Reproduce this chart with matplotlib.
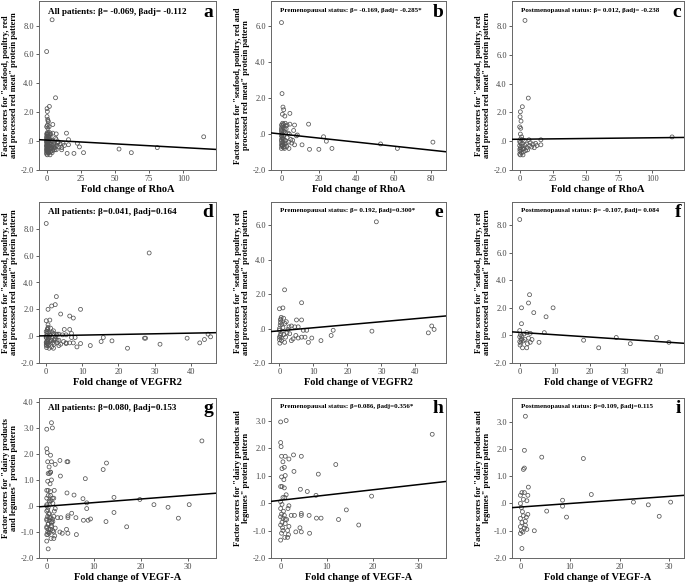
import numpy as np
import matplotlib
matplotlib.use("Agg")
import matplotlib.pyplot as plt
from matplotlib.ticker import FuncFormatter

plt.rcParams['font.family'] = ['Liberation Serif', 'DejaVu Serif']

# ---- RhoA, premenopausal (panel b) ----
rhoa_pre_x = [0, 0.3, 0.8, 1.2, 0.5, 1.8, 4.5, 2, 1, 0, 0.5, 3, 4.5, 7, 14.5, 6.5, 2.5, 0, 0.3, 0,
              0.5, 1, 0, 0.2, 0.5, 1.5, 0, 1, 2.5, 3, 4, 5, 5.5, 6, 7, 8, 8.5, 11, 15, 20,
              22.5, 24, 27, 53, 62, 81, 0, 0.1, 0.4, 0.8, 1.2, 1.5, 2, 2.2, 0.6, 1.3, 0.2, 0.7,
              1.8, 3.5, 2.8, 0.9, 0, 0.3, 0.1, 1.6, 2.4, 0, 0.5, 1.0, 3.8, 4.2]
rhoa_pre_y = [6.2, 2.25, 1.5, 1.35, 1.1, 1.0, 1.15, 0.6, 0.55, 0.5, 0.45, 0.5, 0.55, 0.5, 0.55, 0.2, 0.3, 0.1, 0.0, -0.1,
              -0.2, -0.3, -0.4, -0.5, -0.6, -0.7, -0.8, -0.75, -0.5, -0.2, -0.8, -0.3, -0.5, -0.35, -0.6, -0.1, -0.05, -0.6, -0.85, -0.85,
              -0.15, -0.4, -0.8, -0.55, -0.8, -0.45, -0.3, 0.2, -0.65, -0.45, -0.1, 0.3, -0.35, 0.05, 0.6, 0.15, -0.7, -0.25,
              -0.55, 0.05, -0.7, 0.35, -0.6, -0.15, 0.35, -0.8, 0.45, 0.25, 0.0, -0.55, -0.45, 0.0]

# ---- RhoA, postmenopausal (panel c) ----
rhoa_post_x = [4, 6.5, 2, 0.5, 0.3, 1, 0, 0.8, 0.5, 1.5, 2, 0, 0.3, 0, 0.5, 1, 0, 0.5, 2.5, 3,
               4, 5, 6, 7, 8, 9, 10, 11, 12, 13, 16, 16, 115, 1.2, 2.8, 0.2, 1.8, 3.5, 4.5, 0.7,
               2.2, 5.5, 7.5, 1.3, 0.1]
rhoa_post_y = [8.4, 3.0, 2.4, 2.05, 1.7, 1.4, 1.0, 0.9, 0.5, 0.3, 0.1, 0.0, -0.1, -0.3, -0.45, -0.6, -0.9, -0.95, -0.95, -0.5,
               -0.3, -0.2, -0.6, 0.1, -0.1, -0.4, -0.2, -0.45, -0.15, -0.3, 0.1, -0.25, 0.3, -0.2, -0.75, -0.7, -0.35, 0.05, -0.65, 0.15,
               -0.55, -0.45, -0.3, -0.8, -0.55]

# ---- VEGFR2, premenopausal (panel e) ----
vegfr2_pre_x = [28.5, 1.5, 6.5, 0, 1, 5, 6.5, 0.5, 1.2, 2, 0.3, 3.5, 4.5, 5.5, 7, 8, 2.5, 3, 4, 4.8,
                5.5, 6.5, 7.5, 8.5, 9.5, 12.2, 15.2, 15.8, 27.2, 43.8, 44.8, 45.5, 3.5, 1.5, 2.2, 0, 0.2, 0.4, 0, 0.6,
                0.1, 0.8, 1, 0.3, 0.5, 1.8, 0, 0.2, 0.7, 1.3, 2.8, 0, 0.4, 1.6]
vegfr2_pre_y = [6.2, 2.25, 1.5, 1.15, 1.2, 0.5, 0.5, 0.65, 0.6, 0.4, 0.5, 0.15, 0.1, 0.1, -0.1, -0.1, -0.05, -0.3, -0.6, -0.4,
                -0.55, -0.5, -0.5, -0.8, -0.55, -0.7, -0.4, -0.1, -0.15, -0.25, 0.15, -0.05, -0.7, -0.8, -0.25, -0.1, 0.2, -0.3, -0.5, -0.7,
                -0.85, -0.15, 0.05, 0.35, -0.55, -0.5, 0.0, -0.4, 0.25, -0.35, 0.1, -0.65, 0.55, 0.3]

# ---- VEGFR2, postmenopausal (panel f) ----
vegfr2_post_x = [0, 2.8, 2.5, 0.5, 9.5, 4, 7.5, 0.5, 0, 2, 3, 7, 0.2, 0, 0.5, 1, 0.3, 0.8, 2, 2.5,
                 3, 3.5, 5.5, 18.2, 22.5, 27.5, 31.5, 39, 42.5, 1.5, 0.1, 0.6, 2.2, 1.2, 0.4, 0]
vegfr2_post_y = [8.4, 2.95, 2.35, 2.0, 2.0, 1.65, 1.35, 0.85, 0.35, 0.2, 0.15, 0.2, 0.05, -0.1, -0.25, -0.4, -0.55, -0.9, -0.9, -0.2,
                 -0.5, -0.3, -0.5, -0.35, -0.9, -0.15, -0.6, -0.15, -0.5, -0.3, -0.7, -0.05, -0.6, 0.1, -0.35, -0.45]

# ---- VEGF-A, premenopausal (panel h) ----
vegfa_pre_x = [0, 1.2, 0, 0.1, 0.2, 1, 2.8, 4.5, 1.8, 0.5, 0.8, 0.3, 12, 2.9, 8.2, 0.2, 1, 0.7, 0.3, 0.8,
               0, 4.3, 5.8, 7.7, 1.2, 0.5, 0.9, 19.8, 33, 0, 0.3, 1.8, 1.6, 14.3, 4.5, 0.2, 0.8, 0, 0.5, 1.3,
               2.3, 3, 4.5, 6.2, 7.8, 8.8, 12.6, 17, 0.3, 1, 1.8, 0, 0.5, 1.5, 3.3, 4.2, 4.5, 6.3, 0.2, 0.9,
               1.5, 0, 1.7, 0.6, 0, 1.0, 0.4]
vegfa_pre_y = [2.95, 3.0, 2.2, 2.05, 1.7, 1.7, 1.75, 1.7, 1.6, 1.5, 1.3, 1.25, 1.4, 1.15, 1.05, 0.95, 1.0, 0.85, 0.6, 0.55,
               0.6, 0.5, 0.42, 0.28, 0.3, 0.2, 0.2, 0.25, 2.5, 0.05, -0.05, -0.1, -0.2, -0.25, -0.38, -0.4, -0.45, -0.5, -0.55, -0.6,
               -0.45, -0.45, -0.45, -0.45, -0.55, -0.55, -0.6, -0.8, -0.7, -0.75, -0.85, -0.8, -1.0, -1.0, -1.05, -0.9, -1.05, -1.1, -1.1, -1.25,
               -1.25, -1.35, -1.15, -0.3, -0.2, -0.6, -0.9]

# ---- VEGF-A, postmenopausal (panel i) ----
vegfa_post_x = [1, 0.8, 4.3, 12.7, 0.6, 0.8, 1.6, 14.3, 0.3, 0.8, 0, 1.5, 0.6, 1.3, 8.5, 0, 0.2, 8.5, 22.8, 25.8,
                30.3, 5.3, 1.5, 0, 0.6, 9.3, 28, 1, 0.3, 0, 0.8, 1.3, 2.8, 0.2, 0.5, 0, 0.3, 1, 0.4, 1.2]
vegfa_post_y = [3.2, 1.95, 1.7, 1.65, 1.25, 1.3, 0.6, 0.33, 0.4, 0.4, 0.3, 0.3, 0.15, 0.1, 0.12, 0.0, -0.15, -0.1, 0.05, -0.05,
                0.05, -0.28, -0.4, -0.55, -0.45, -0.5, -0.47, -0.65, -0.7, -0.85, -0.9, -0.95, -1.0, -1.0, -1.05, -1.1, -1.65, -0.8, -0.3, -0.5]

# fitted lines (intercept at x=0, slope), panels a..i
fit_intercept = [0.07, 0.0, 0.14, 0.03, -0.13, 0.22, -0.01, 0.1, -0.13]
fit_slope = [-0.0052, -0.0112, 0.001, 0.0049, 0.0176, -0.0169, 0.0139, 0.019, 0.013]

panel_letters = ['a', 'b', 'c', 'd', 'e', 'f', 'g', 'h', 'i']
annotations = [
    'All patients: β= -0.069, βadj= -0.112',
    'Premenopausal status: β= -0.169, βadj= -0.285*',
    'Postmenopausal status: β= 0.012, βadj= -0.238',
    'All patients: β=0.041, βadj=0.164',
    'Premenopausal status: β= 0.192, βadj=0.300*',
    'Postmenopausal status: β= -0.107, βadj= 0.084',
    'All patients: β=0.080, βadj=0.153',
    'Premenopausal status: β=0.086, βadj=0.356*',
    'Postmenopausal status: β=0.109, βadj=0.115',
]
xlabels = ['Fold change of RhoA'] * 3 + ['Fold change of VEGFR2'] * 3 + ['Fold change of VEGF-A'] * 3
ylabels = [
    'Factor scores for "seafood, poultry, red\nand processed red meat" protein pattern',
    'Factor scores for "seafood, poultry, red and\nprocessed red meat" protein pattern',
    'Factor scores for "seafood, poultry, red\nand processed red meat" protein pattern',
    'Factor scores for "seafood, poultry, red\nand processed red meat" protein pattern',
    'Factor scores for "seafood, poultry, red\nand processed red meat" protein pattern',
    'Factor scores for "seafood, poultry, red\nand processed red meat" protein pattern',
    'Factor scores for "dairy products\nand legumes" protein pattern',
    'Factor scores for "dairy products and\nlegumes" protein pattern',
    'Factor scores for "dairy products and\nlegumes" protein pattern',
]
xlims = [(-5.6, 124), (-5.6, 88), (-5.8, 124), (-2, 47), (-2.5, 49), (-2.2, 46.8), (-1.65, 36), (-2.1, 36), (-1.7, 33)]
ylims = [(-2, 9.7), (-2, 7.4), (-2, 9.75), (-2, 10.0), (-2, 7.35), (-2, 9.67), (-2, 4.15), (-2, 3.82), (-2, 3.87)]
xticks = [[0, 25, 50, 75, 100], [0, 20, 40, 60, 80], [0, 25, 50, 75, 100],
          [0, 10, 20, 30, 40], [0, 10, 20, 30, 40], [0, 10, 20, 30, 40],
          [0, 10, 20, 30], [0, 10, 20, 30], [0, 10, 20, 30]]
yticks = [[-2, 0, 2, 4, 6, 8], [-2, 0, 2, 4, 6], [-2, 0, 2, 4, 6, 8],
          [-2, 0, 2, 4, 6, 8], [-2, 0, 2, 4, 6], [-2, 0, 2, 4, 6, 8],
          [-2, -1, 0, 1, 2, 3, 4], [-2, -1, 0, 1, 2, 3], [-2, -1, 0, 1, 2, 3]]

pre_x = [rhoa_pre_x, vegfr2_pre_x, vegfa_pre_x]
pre_y = [rhoa_pre_y, vegfr2_pre_y, vegfa_pre_y]
post_x = [rhoa_post_x, vegfr2_post_x, vegfa_post_x]
post_y = [rhoa_post_y, vegfr2_post_y, vegfa_post_y]

W, H = 685, 585
cols = [(39, 216), (271, 446), (512, 684)]
rows = [(1, 170), (202, 363), (398, 558)]


def spss_fmt(v, pos):
    s = '%.1f' % v
    if s == '0.0' or s == '-0.0':
        return '.0'
    return s


fig = plt.figure(figsize=(W / 100, H / 100), dpi=100)

for r in range(3):
    for c in range(3):
        k = r * 3 + c
        x0, x1 = cols[c]
        y0, y1 = rows[r]
        ax = fig.add_axes([x0 / W, 1 - y1 / H, (x1 - x0) / W, (y1 - y0) / H])
        if c == 0:
            xs = pre_x[r] + post_x[r]
            ys = pre_y[r] + post_y[r]
        elif c == 1:
            xs, ys = pre_x[r], pre_y[r]
        else:
            xs, ys = post_x[r], post_y[r]
        ax.scatter(xs, ys, s=8, facecolors='none', edgecolors='#555555', linewidths=0.55, zorder=2)
        lx = np.array(xlims[k])
        ax.plot(lx, fit_intercept[k] + fit_slope[k] * lx, color='black', lw=1.1, zorder=3)
        ax.set_xlim(xlims[k])
        ax.set_ylim(ylims[k])
        ax.set_xticks(xticks[k])
        ax.set_yticks(yticks[k])
        ax.yaxis.set_major_formatter(FuncFormatter(spss_fmt))
        ax.tick_params(labelsize=6, colors='#444444', length=2.5, width=0.6, pad=1.2)
        for sp in ax.spines.values():
            sp.set_color('#666666')
            sp.set_linewidth(0.7)
        ax.set_xlabel(xlabels[k], fontsize=7.5, fontweight='bold', labelpad=1.5)
        ax.set_ylabel(ylabels[k], fontsize=6, fontweight='bold', labelpad=2, linespacing=1.0)
        fs = 6.6 if c == 0 else 5.0
        ax.text(0.05, 0.96, annotations[k], transform=ax.transAxes, fontsize=fs,
                fontweight='bold', va='top', ha='left')
        ax.text(0.985, 0.985, panel_letters[k], transform=ax.transAxes, fontsize=14,
                fontweight='bold', va='top', ha='right')

fig.savefig('out.png', dpi=100)
